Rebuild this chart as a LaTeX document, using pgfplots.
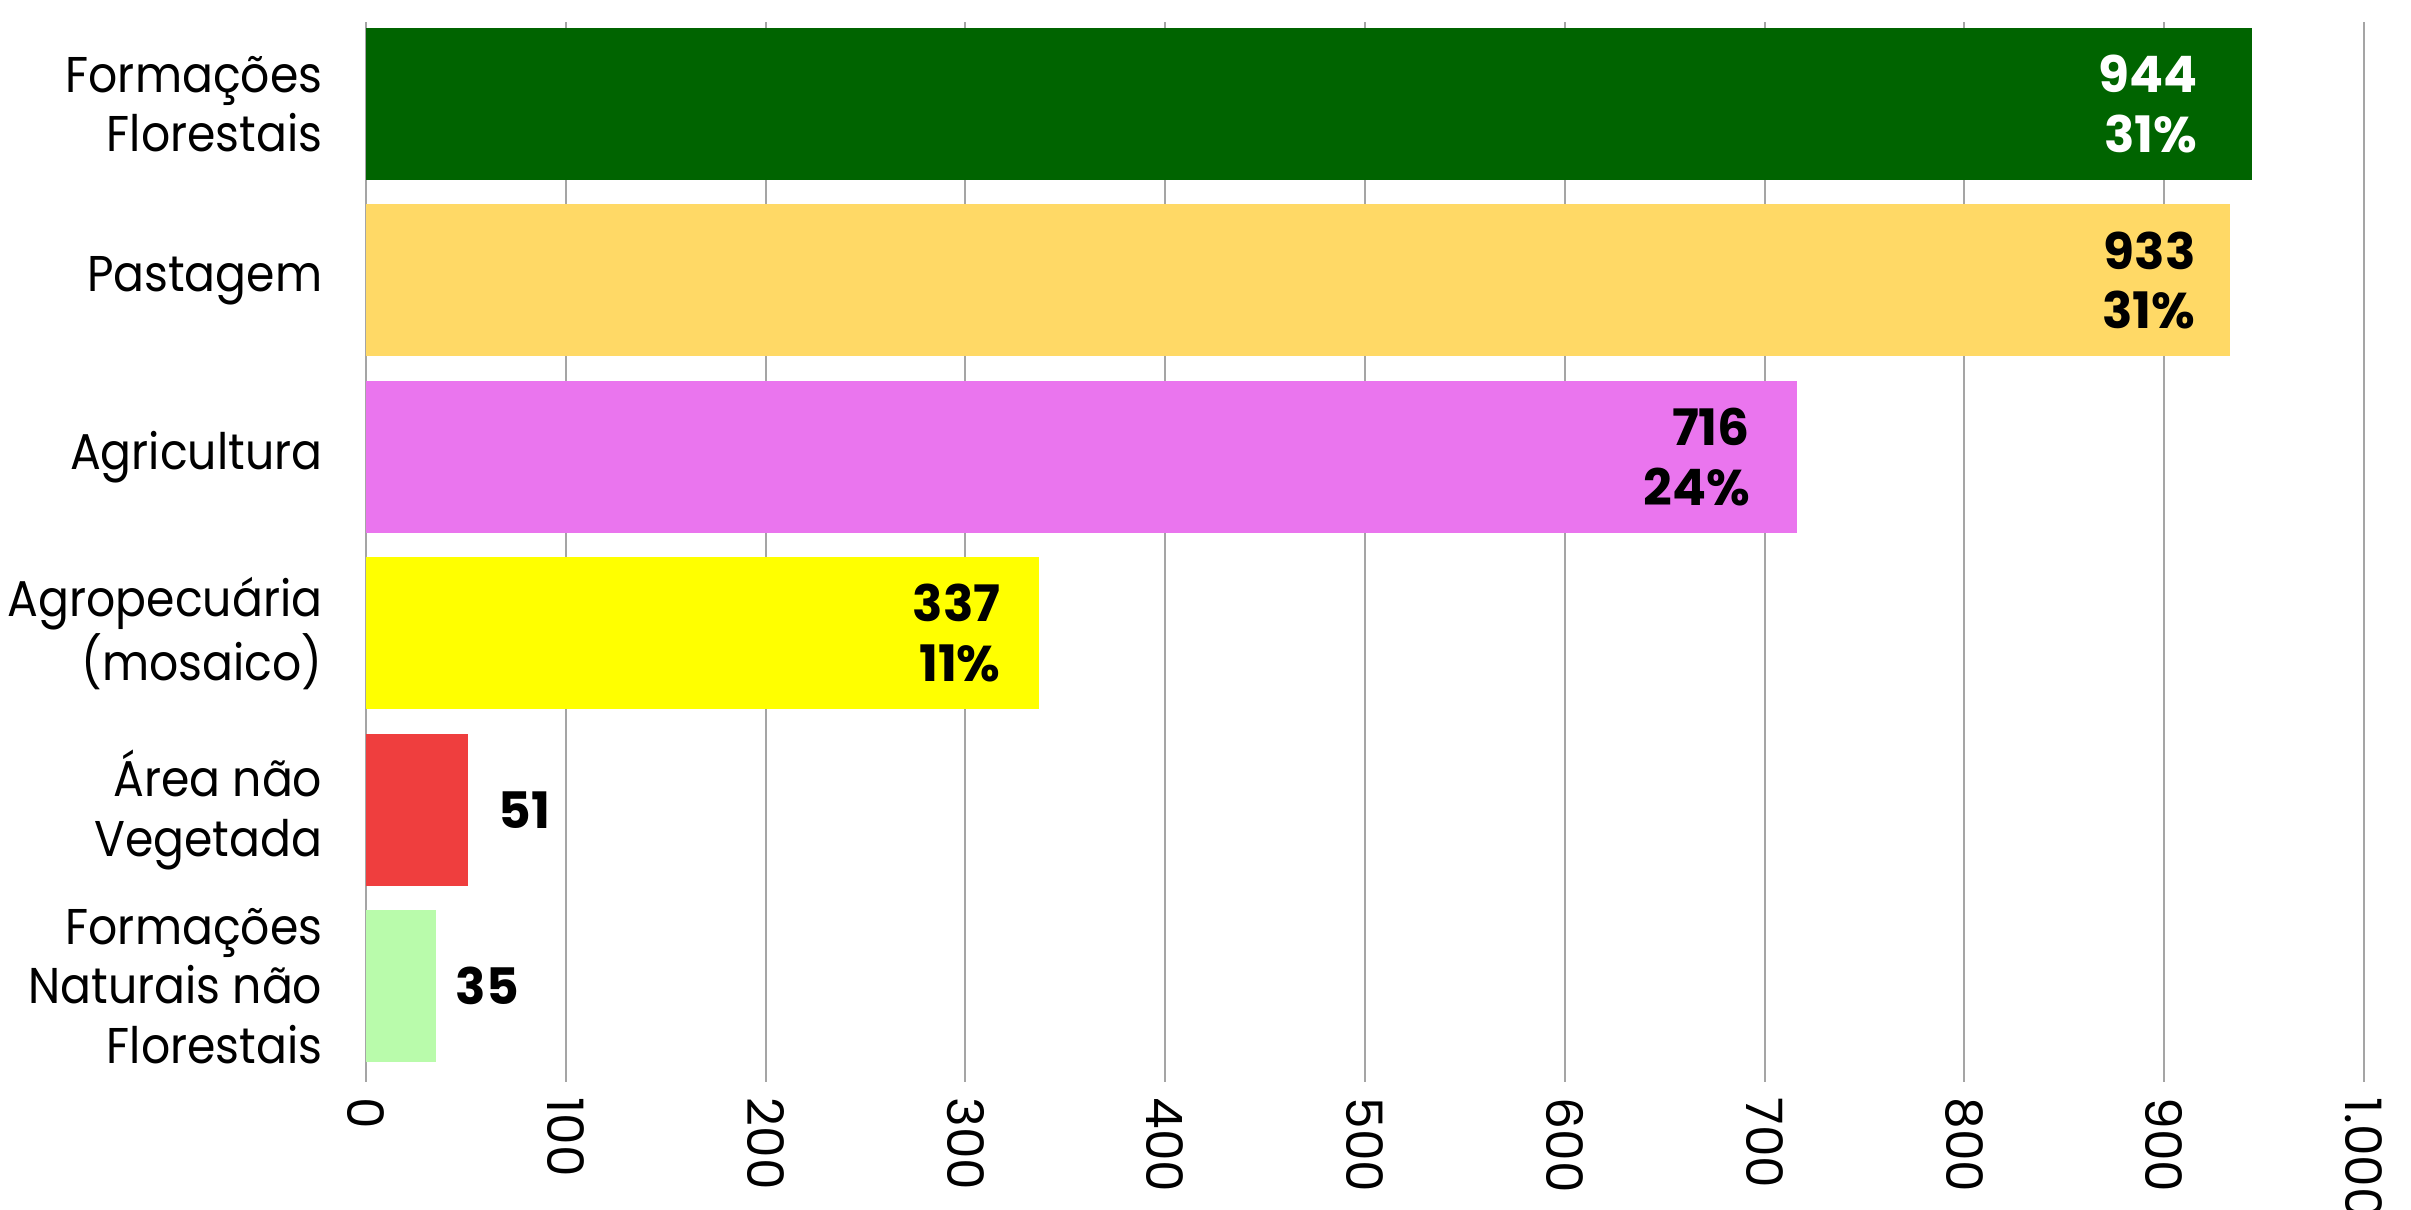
\documentclass[border=0pt]{standalone}
\usepackage{fontspec}
\setmainfont{Poppins}
\newfontfamily\lblfam{Poppins}[FakeStretch=0.91]
\usepackage{pgfplots}
\pgfplotsset{compat=1.18}
\definecolor{cA}{RGB}{0,100,0}
\definecolor{cB}{RGB}{255,217,102}
\definecolor{cC}{RGB}{234,117,238}
\definecolor{cD}{RGB}{255,255,0}
\definecolor{cE}{RGB}{239,62,62}
\definecolor{cF}{RGB}{185,251,171}
\definecolor{gridc}{RGB}{165,165,165}
\newcommand{\lblfont}{\fontsize{14.3}{17}\selectfont}
\begin{document}
\begin{tikzpicture}
\begin{axis}[
  at={(36.6mm,12.7mm)}, anchor=south west,
  scale only axis, width=199.8mm, height=106mm,
  xbar, bar width=15.2mm, bar shift=0pt,
  xmin=0, xmax=1000, ymin=-0.465, ymax=5.544, y dir=reverse,
  xtick={0,100,...,1000},
  ytick={0,...,5},
  yticklabels={{Formações\\Florestais},{Pastagem},{Agricultura},{Agropecuária\\(mosaico)},{Área não\\Vegetada},{Formações\\Naturais não\\Florestais}},
  yticklabel style={align=right, font=\lblfont\lblfam, inner sep=0pt, xshift=-4.3mm, anchor=east},
  xticklabel style={rotate=-90, anchor=west, font=\lblfont, inner sep=0pt, xshift=1.5mm},
  /pgf/number format/.cd, 1000 sep={.}, assume math mode=true, /pgfplots/.cd,
  major tick length=0pt,
  xmajorgrids, grid style={gridc, line width=0.6pt},
  axis line style={draw=none},
  every node near coord/.append style={font=\lblfont\bfseries, align=right, inner sep=0pt},
]
\addplot[fill=cA, draw=none, nodes near coords={944\\31\%}, every node near coord/.append style={anchor=east, xshift=-5.4mm, text=white}] coordinates {(944,0)};
\addplot[fill=cB, draw=none, nodes near coords={933\\31\%}, every node near coord/.append style={anchor=east, xshift=-3.4mm, text=black}] coordinates {(933,1)};
\addplot[fill=cC, draw=none, nodes near coords={716\\24\%}, every node near coord/.append style={anchor=east, xshift=-4.6mm, text=black}] coordinates {(716,2)};
\addplot[fill=cD, draw=none, nodes near coords={337\\11\%}, every node near coord/.append style={anchor=east, xshift=-3.8mm, text=black}] coordinates {(337,3)};
\addplot[fill=cE, draw=none, nodes near coords={51}, every node near coord/.append style={anchor=west, xshift=3mm, text=black}] coordinates {(51,4)};
\addplot[fill=cF, draw=none, nodes near coords={35}, every node near coord/.append style={anchor=west, xshift=1.9mm, text=black}] coordinates {(35,5)};
\end{axis}
\pgfresetboundingbox
\useasboundingbox (0,0) rectangle (241.1mm,120.9mm);
\end{tikzpicture}
\end{document}
